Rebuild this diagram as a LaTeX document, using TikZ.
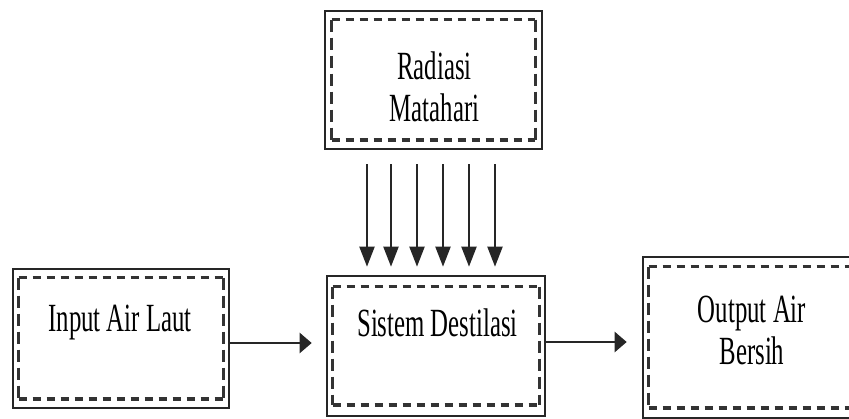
\documentclass[tikz,border=0pt]{standalone}
\usepackage{fontspec}
\setmainfont{Liberation Serif}[FakeStretch=0.62]
\usetikzlibrary{arrows.meta}
\tikzset{
  outerbox/.style={draw=black!85, line width=2.6pt, rectangle, inner sep=0pt},
  dh/.style={draw=black!80, line width=3.6pt, dash pattern=on 8pt off 6pt},
  dv/.style={draw=black!80, line width=2.8pt, dash pattern=on 12pt off 6pt},
  lbl/.style={font=\fontsize{40}{42}\selectfont, align=center, inner sep=0pt},
  varr/.style={draw=black!85, line width=2pt, -{Triangle[length=20pt,width=15pt]}},
  harr/.style={draw=black!85, line width=2.4pt, -{Triangle[length=12pt,width=20pt]}}
}
\newcommand\innerbox[3]{%
  \draw[dh] ([shift={(#2pt,-#3pt)}]#1.north west) -- ([shift={(-#2pt,-#3pt)}]#1.north east);
  \draw[dh] ([shift={(#2pt,#3pt)}]#1.south west) -- ([shift={(-#2pt,#3pt)}]#1.south east);
  \draw[dv] ([shift={(#2pt,-#3pt)}]#1.north west) -- ([shift={(#2pt,#3pt)}]#1.south west);
  \draw[dv] ([shift={(-#2pt,-#3pt)}]#1.north east) -- ([shift={(-#2pt,#3pt)}]#1.south east);}
\begin{document}
\begin{tikzpicture}[x=1pt,y=-1pt]
\path[use as bounding box] (0,0) rectangle (849,419);
\begin{scope}
\clip (0,0) rectangle (849,419);
\node[outerbox, minimum width=217pt, minimum height=138pt] (rad) at (433.5,80) {};
\node[outerbox, minimum width=216pt, minimum height=139pt] (inp) at (121,338.5) {};
\node[outerbox, minimum width=218pt, minimum height=140pt] (sis) at (436,346) {};
\node[outerbox, minimum width=218pt, minimum height=161pt] (out) at (752,337.5) {};
\innerbox{rad}{8}{10}
\innerbox{inp}{7}{10}
\innerbox{sis}{7}{12}
\innerbox{out}{7}{11}
\node[lbl, anchor=base] (tr) at (434.5,122) {Radiasi\\Matahari};
\node[lbl, anchor=base] (ti) at (120,332) {Input Air Laut};
\node[lbl, anchor=base] (ts) at (437.5,337) {Sistem Destilasi};
\node[lbl, anchor=base] (to) at (752,365) {Output Air\\Bersih};
\foreach \dx in {-66.5,-42.5,-16.5,9.5,35.5,61.5}
  \draw[varr, shorten <=14pt, shorten >=8pt] ([xshift=\dx pt]rad.south) -- ([xshift=\dx pt]rad.south |- sis.north);
\coordinate (a1) at ([yshift=-4.5pt]inp.east);
\draw[harr, shorten >=14pt] (a1) -- (a1 -| sis.west);
\coordinate (a2) at ([yshift=4pt]sis.east);
\draw[harr, shorten >=15pt] (a2) -- (a2 -| out.west);
\end{scope}
\end{tikzpicture}
\end{document}
